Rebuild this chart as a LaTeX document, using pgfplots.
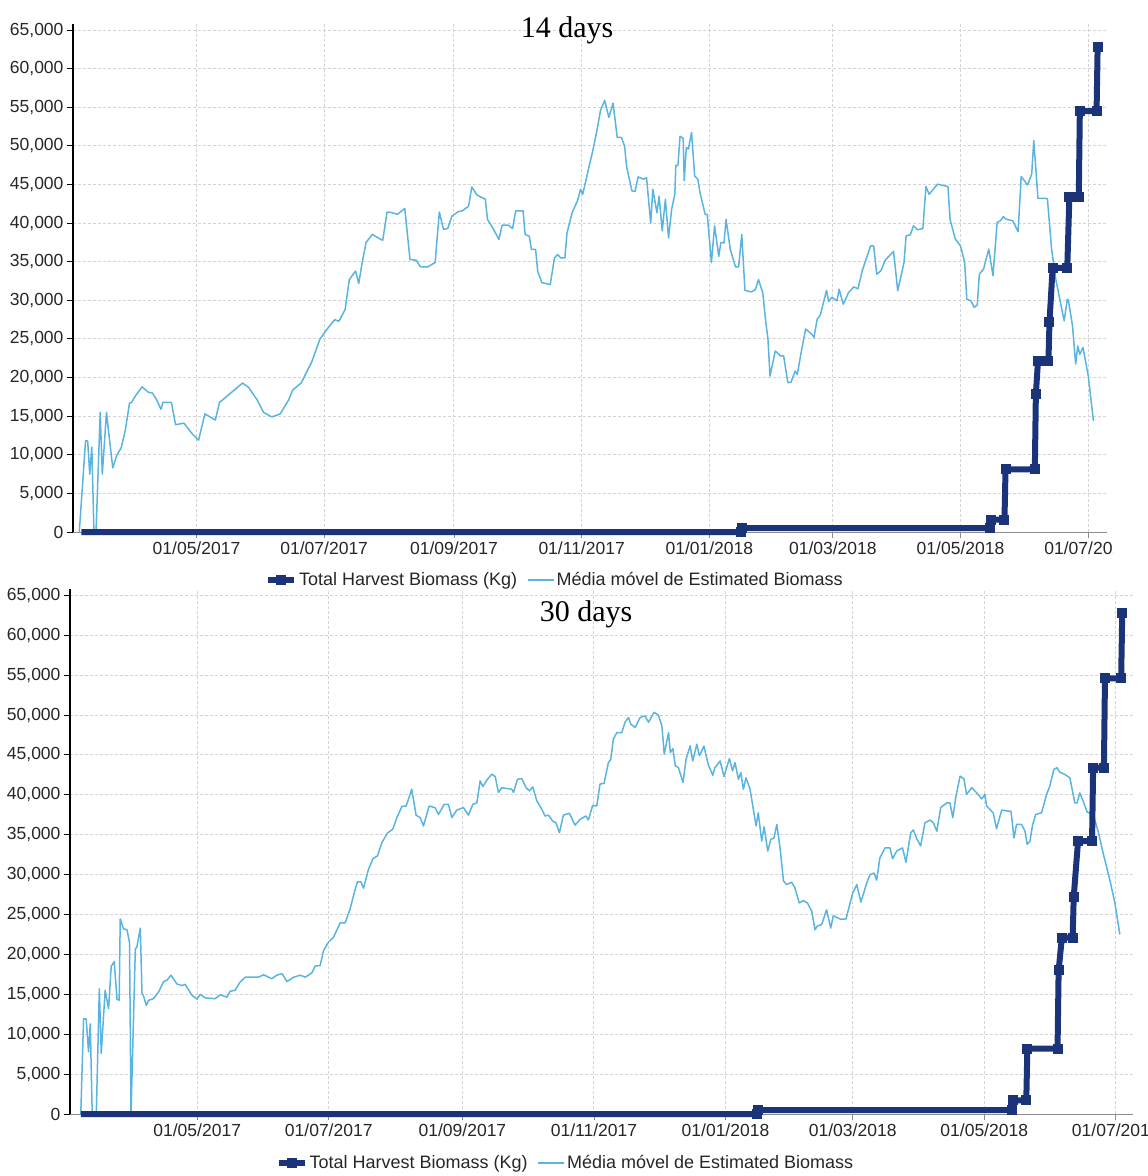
\documentclass[border=0pt]{standalone}
\usepackage{fontspec}
\setmainfont{Liberation Sans}
\newfontfamily\titlefont{Liberation Serif}
\usepackage{pgfplots}
\pgfplotsset{compat=1.18}

\definecolor{harvest}{HTML}{1B3378}
\definecolor{estim}{HTML}{5AB4E0}

% x = day counted from 01/01/2017
\pgfplotsset{
  biomass/.style={
    scale only axis, anchor=south west,
    xmin=61, ymin=0, ymax=65800,
    axis lines=left, axis line style={-},
    x axis line style={black!45, line width=0.8pt},
    y axis line style={black, line width=1.2pt},
    clip=false,
    xtick={120,181,243,304,365,424,485,546},
    xticklabels={01/05/2017,01/07/2017,01/09/2017,01/11/2017,01/01/2018,01/03/2018,01/05/2018,01/07/2018},
    ytick={0,5000,...,65000},
    scaled y ticks=false,
    grid=major,
    major grid style={black!17, line width=1pt, dash pattern=on 3pt off 2pt},
    tick align=outside, major tick length=6pt,
    xtick style={black!45, line width=0.8pt},
    ytick style={black, line width=1pt},
    tick label style={font=\fontsize{17.5}{20}\selectfont, text=black!85},
    yticklabel style={/pgf/number format/1000 sep={,}, /pgf/number format/assume math mode=true},
    legend columns=2, reverse legend,
    legend style={draw=none, fill=none, anchor=center, font=\fontsize{18}{21}\selectfont, text=black!85,
      /tikz/every even column/.append style={column sep=8pt}},
    legend image code/.code={\draw[mark repeat=2,mark phase=2] plot coordinates {(0pt,0pt) (13pt,0pt) (26pt,0pt)};},
  },
  harv/.style={harvest, line width=6pt, line join=round, mark=square*, mark size=4.5pt,
    mark indices={2,...,19},
    legend image post style={mark indices={2}},
    mark options={solid, fill=harvest, draw=harvest, line width=0pt}},
  est/.style={estim, line width=1.5pt, line join=round, no markers},
}

\begin{document}
\begin{tikzpicture}

% ---------- 14 days ----------
\begin{scope}
\clip (0pt,0pt) rectangle (1113pt,-589pt);
\begin{axis}[biomass, at={(73pt,-532pt)}, width=1034pt, height=508pt, xmax=555,
  legend style={at={(0.466,-0.0945)}}]
\addplot[est] coordinates {
(64,0) (67,11800) (68,11800) (69,7500) (70,11000) (71,0) (72,0) (74,15500) (75,7500) (77,15500)
(78,13000) (80,8300) (82,10000) (84,10900) (86,13200) (88,16700) (89,16800) (91,17700) (94,18800)
(97,18100) (99,18000) (101,17100) (103,15900) (104,16800) (108,16800) (110,13900) (114,14100)
(118,12700) (121,11900) (124,15300) (129,14500) (131,16800) (132,17000) (135,17700) (139,18600)
(142,19300) (145,18700) (149,17100) (152,15500) (156,14900) (160,15300) (162,16200) (164,17100)
(166,18400) (170,19300) (175,22000) (179,25000) (183,26500) (186,27500) (188,27300) (191,28800)
(193,32700) (196,33800) (197.5,32200) (199,34650) (201,37500) (204,38550) (208,37900) (209,37800)
(211,41400) (212,41450) (216,41150) (219.5,41900) (222,35300) (225,35200) (227,34350) (230.5,34350)
(234,34900) (236,41450) (238,39200) (240,39300) (242,40900) (245,41500) (247,41600) (250,42200)
(251.5,44700) (254,43650) (258,43100) (259,40500) (261.5,39400) (264.5,37900) (266,39750) (269,39750)
(271,39300) (272.5,41600) (276,41600) (277,38550) (279,38300) (280,36600) (282,36600) (283,33800)
(285,32300) (289,32050) (291,35500) (292.5,35950) (294,35500) (296,35500) (297,38750) (299.5,41400)
(302,42900) (303.5,44400) (304.5,43750) (306.5,46100) (309.5,49600) (311.5,52300) (313,54600)
(315,55900) (317,53700) (319,55550) (321,51100) (323,51100) (324.5,50000) (325.5,47300) (328,44200)
(329.5,44100) (331,46000) (333.5,45700) (335,45900) (337,40000) (338,44400) (340,41350) (341,43500)
(342.5,39000) (344,43100) (345.5,38100) (347,41800) (348.5,43750) (349,47500) (350,47500) (351,51250)
(352.5,51000) (353,45500) (354,49800) (355,49600) (356.5,51750) (358,46100) (359.5,45700) (360.5,44000)
(363,41150) (364,41150) (366,34900) (367.5,39650) (369.5,35700) (370.5,37500) (372,37450) (373,40500)
(375,36600) (377.5,34350) (379,34350) (380.5,38550) (382,31300) (385,31100) (387,31400) (388.5,32700)
(390.5,31000) (392,27150) (393,25000) (394,20200) (396.5,23450) (399,22800) (400.5,22800) (402.5,19350)
(404,19400) (406,20850) (407,20400) (409,23450) (411,26300) (414,25600) (415,25200) (416.5,27550)
(418,28100) (421,31300) (422,29850) (423.5,30400) (426,29950) (427,31450) (429,29500) (431.5,31000)
(434,31750) (436,31500) (438,33800) (442,37050) (443.5,37050) (445,33400) (447,33850) (449,35200)
(453,36350) (455,31250) (458,34900) (459,38350) (461,38500) (462.5,39650) (464.5,39150) (467,39300)
(468.5,44750) (470,43750) (474,45050) (479,44750) (480,40500) (482.5,37950) (485,37050) (487,34900)
(488,30150) (490,29950) (491.5,29100) (493,29400) (494,33400) (496,34050) (498.5,36650) (500.5,33200)
(502.5,40100) (504,40300) (505.5,40850) (506.5,40550) (510,40300) (512.5,38900) (514,46050) (517,44950)
(519,46350) (520,50700) (522,43200) (526.5,43200) (528.5,36650) (530.5,32750) (534.5,27350) (536,30150)
(536.5,30050) (538.5,26700) (540,21750) (541,24100) (542,23000) (543.5,23900) (546,20250) (548.5,14400)
};
\addlegendentry{Média móvel de Estimated Biomass}
\addplot[harv] coordinates {
(65,0) (380,0) (380.5,500) (499,500) (499.5,1600) (506,1600) (506.5,8100) (520.5,8100) (521,17900)
(522,22100) (527,22100) (527.5,27200) (529,34200) (536,34200) (537,43400) (541.5,43400) (542,54500)
(550,54500) (550.5,62800)
};
\addlegendentry{Total Harvest Biomass (Kg)}
\end{axis}
\end{scope}

% ---------- 30 days ----------
\begin{axis}[biomass, at={(70pt,-1114pt)}, width=1063pt, height=525pt, xmax=554,
  legend style={at={(0.466,-0.0933)}}]
\addplot[est] coordinates {
(66,0) (67.3,11960) (68.5,11900) (69.6,7800) (70.4,11300) (71.3,0) (73.2,0) (74.6,15700) (75.5,7600)
(77.3,15500) (78.9,13200) (80.1,18500) (81.5,19100) (82.8,14400) (83.8,14250) (84.3,24450) (85.8,23200)
(87.4,23100) (88.6,21500) (89.3,0) (91.3,20700) (92,20900) (93.6,23300) (94.4,15100) (95.1,14800)
(96.4,13600) (97.4,14250) (99.7,14450) (102.1,15300) (104.4,16600) (105.9,16750) (107.8,17400)
(110.6,16300) (112.9,16100) (114.4,16250) (117.5,14900) (119.9,14400) (121.4,15000) (123.7,14550)
(128.3,14450) (130.7,14950) (133.8,14650) (135.3,15400) (137.6,15500) (139.9,16550) (142.3,17150)
(148.4,17150) (150.8,17450) (154.6,16950) (156.9,17400) (159.3,17600) (161.6,16600) (164.7,17150)
(167.8,17400) (170.1,17150) (173.2,17700) (174.7,18550) (177,18600) (178.6,20500) (180.9,21550)
(183.2,22150) (186.3,23950) (188.6,23950) (190.9,25700) (192.8,27700) (194.3,29100) (195.9,29100)
(197.1,28300) (198.7,29900) (199.4,30650) (201.5,32000) (203.6,32350) (205.6,34000) (208.2,35200)
(210.7,35700) (212.6,37150) (214.9,38550) (216.9,38600) (219.5,40700) (221.5,37450) (223.4,37150)
(224.9,36100) (227.6,38600) (230.3,38400) (231.9,37550) (234.5,38800) (236.5,38800) (238.1,37150)
(240.4,38100) (243.5,38400) (245.8,37450) (247.8,38800) (249.7,39000) (251.2,41750) (252.5,41050)
(254.6,41950) (256.6,42600) (258.2,42300) (259.7,40300) (261.3,40900) (263.6,40800) (265.9,40700)
(266.7,40300) (268.5,41950) (270.5,42050) (272.5,40900) (274.1,40500) (275.6,41000) (277.5,39250)
(279.8,38200) (281.3,37350) (282.9,37450) (284.9,36700) (286.4,36500) (288,35250) (289.8,37450)
(292.6,37700) (295.2,36200) (297.6,36950) (300.3,37350) (301.4,36850) (303.4,38700) (305.3,38600)
(306.8,41350) (308.7,41450) (310.7,44050) (311.8,44450) (313,47000) (314.6,47800) (316.9,47800)
(318.4,49100) (320,49700) (321.1,48850) (323.1,48450) (325.4,49700) (327.7,49900) (329.3,49100)
(331.9,50350) (333.9,50000) (335.5,48650) (336.6,45100) (338.6,47800) (339.4,45300) (340.6,45800)
(341.7,43650) (343.2,43400) (345.3,41550) (346.7,44450) (348.6,46150) (349.8,44250) (351.7,46350)
(352.9,44900) (355,46100) (357,43800) (359.1,42450) (360.1,43400) (362.5,44250) (364.3,42300)
(366.8,44550) (368.3,43000) (369.4,44050) (371,41950) (372.1,42800) (373.3,40700) (374.5,42150)
(376.4,40700) (377.9,38200) (379.2,36100) (380.2,37750) (381.8,34200) (382.9,36000) (384.6,32950)
(386,34400) (387.5,34600) (388.8,36300) (390.3,33350) (391.9,29200) (393.4,28750) (395.7,29050)
(397.2,28350) (399.2,26450) (401.1,26750) (403,26450) (405,25400) (406.5,23100) (407.6,23550)
(409.6,23750) (411.9,25600) (413.8,23300) (415,24850) (416.9,24600) (418.4,24400) (420.9,24450)
(422,25600) (424,27700) (425.9,28750) (427.8,26550) (430.5,28950) (432,30000) (433.9,30200)
(435.1,29300) (436.6,32100) (439,33350) (441.3,33350) (442.5,32000) (444.4,32950) (447.1,33350)
(448.7,31550) (450.9,35250) (452.1,35600) (453.7,34500) (455.5,33600) (457.5,36500) (459.9,36850)
(461.4,36500) (463,35450) (464.8,38400) (467.6,39000) (469.1,39000) (470.4,37150) (471.9,39850)
(473.8,42350) (475.6,42000) (476.8,40050) (479.2,40900) (481.5,40250) (483.8,39500) (485.3,40050)
(486.1,38600) (487.6,38200) (489.2,37700) (490.7,35750) (493.1,38100) (496.1,37950) (497.4,37950)
(498.8,34600) (500,36300) (502.3,36300) (503.9,35450) (504.9,33800) (506.2,34200) (507.4,36200)
(508.9,37550) (511.6,37750) (513.9,40050) (515.4,41100) (517.3,43200) (518.8,43400) (520,42850)
(522.4,42550) (524.7,42150) (525.9,40500) (527,39000) (528.1,39000) (529.3,40250) (530.9,39200)
(532.7,37850) (535.5,37550) (537.8,35450) (540.1,32750) (543.2,29400) (545.6,26450) (547.9,22500)
};
\addlegendentry{Média móvel de Estimated Biomass}
\addplot[harv] coordinates {
(66,0) (379.5,0) (380,500) (498,500) (498.5,1700) (504.5,1700) (505,8200) (519,8200) (519.5,18000)
(521,22100) (526,22100) (526.5,27200) (528.5,34200) (535,34200) (535.5,43400) (540.5,43400) (541,54600)
(548.5,54600) (549,62800)
};
\addlegendentry{Total Harvest Biomass (Kg)}
\end{axis}

\node[font=\titlefont\fontsize{30}{30}\selectfont, anchor=base] at (567pt,-37pt) {14 days};
\node[font=\titlefont\fontsize{30}{30}\selectfont, anchor=base] at (586pt,-621pt) {30 days};

\pgfresetboundingbox
\useasboundingbox (0pt,0pt) rectangle (1148pt,-1176pt);
\end{tikzpicture}
\end{document}
